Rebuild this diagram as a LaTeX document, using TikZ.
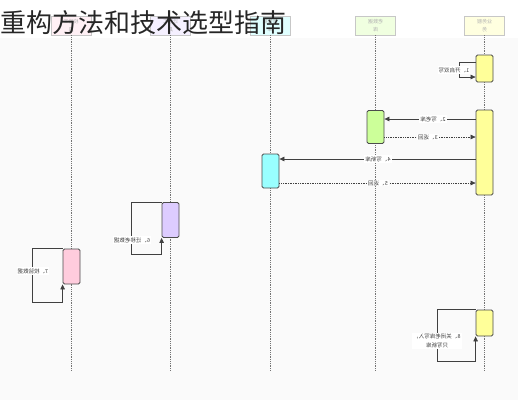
\documentclass[tikz,border=0pt]{standalone}
\usepackage{fontspec}
\setmainfont{Noto Sans CJK SC}
\usetikzlibrary{arrows.meta}
\definecolor{amarillo}{HTML}{FFFF99}
\definecolor{verde}{HTML}{CCFF99}
\definecolor{cian}{HTML}{99FFFF}
\definecolor{lila}{HTML}{DDCCFF}
\definecolor{rosa}{HTML}{FFCCDD}
\begin{document}
\begin{tikzpicture}[x=1pt,y=-1pt,
    act/.style={draw=black!70, line width=0.8pt, rounded corners=1.5pt, minimum width=17pt, inner sep=0pt},
    cab/.style={draw=black!22, text=black!30, font=\fontsize{5}{6}\selectfont, minimum width=40pt, minimum height=19pt, align=center, inner sep=1pt},
    msg/.style={-{Triangle[length=5pt,width=4.5pt]}, black!75, line width=0.7pt},
    ret/.style={msg, densely dotted},
    vida/.style={black!55, densely dotted, line width=0.8pt},
    etq/.style={fill=white, text=black!75, font=\fontsize{5.5}{6.5}\selectfont, inner sep=1pt, align=center}]
    \useasboundingbox (0,0) rectangle (518,400);
    \fill[black!2] (0,38) rectangle (518,400);

    % Cabeceras
    \node[cab, fill=rosa!30] (hA) at (71,25.5) {\reflectbox{\shortstack{校验工\\具}}};
    \node[cab, fill=lila!30] (hB) at (170.5,25.5) {\reflectbox{\shortstack{迁移工\\具}}};
    \node[cab, fill=cian!30] (hC) at (270,25.5) {\reflectbox{\shortstack{新数据\\库}}};
    \node[cab, fill=verde!30] (hD) at (375.5,25.5) {\reflectbox{\shortstack{老数据\\库}}};
    \node[cab, fill=amarillo!30] (hE) at (484.5,25.5) {\reflectbox{\shortstack{业务服\\务}}};

    % Lineas de vida
    \foreach \h/\x in {hA/71,hB/170.5,hC/270,hD/375.5,hE/484.5} {
        \coordinate (f\h) at (\x,371);
        \draw[vida] (\h.south) -- (f\h);
    }

    % Activaciones
    \node[act, fill=amarillo, minimum height=27pt] (y1) at (484.5,68.5) {};
    \node[act, fill=amarillo, minimum height=85pt] (y2) at (484.5,152.5) {};
    \node[act, fill=verde, minimum height=33pt] (g1) at (375.5,127) {};
    \node[act, fill=cian, minimum height=34pt] (c1) at (270.5,171) {};
    \node[act, fill=lila, minimum height=35pt] (p1) at (170.5,220) {};
    \node[act, fill=rosa, minimum height=35pt] (r1) at (71.5,266.5) {};
    \node[act, fill=amarillo, minimum height=26pt] (y3) at (484.5,323) {};

    % Mensajes
    \draw[msg] (y1.west |- 0,62) -| (459,77) -- (y1.west |- 0,77);
    \draw[msg] (y2.west |- 0,119) -- (g1.east |- 0,119);
    \draw[ret] (g1.east |- 0,137) -- (y2.west |- 0,137);
    \draw[msg] (y2.west |- 0,159) -- (c1.east |- 0,159);
    \draw[ret] (c1.east |- 0,183) -- (y2.west |- 0,183);
    \draw[msg] (p1.north west) -| (131,254) -| (p1.south west);
    \draw[msg] (r1.north west) -| (32,302) -| (r1.south west);
    \draw[msg] (y3.north west) -| (437,361) -| (y3.south west);

    % Etiquetas
    \node[etq] (m1) at (454,70) {\reflectbox{1、开启双写}};
    \node[etq] (m2) at (433,119) {\reflectbox{2、写老库}};
    \node[etq] (m3) at (428,137) {\reflectbox{3、返回}};
    \node[etq] (m4) at (378,159) {\reflectbox{4、写新库}};
    \node[etq] (m5) at (378,183) {\reflectbox{5、返回}};
    \node[etq] (m6) at (132,240) {\reflectbox{6、迁移老数据}};
    \node[etq] (m7) at (33,271) {\reflectbox{7、校验数据}};
    \node[etq] (m8) at (437,341) {\reflectbox{\shortstack{8、关闭老库写入，\\只写新库}}};

    % Titulo
    \node[anchor=base west, inner sep=0pt, text=black!85, font=\fontsize{26}{26}\selectfont] (titulo) at (0,32) {重构方法和技术选型指南};
\end{tikzpicture}
\end{document}
